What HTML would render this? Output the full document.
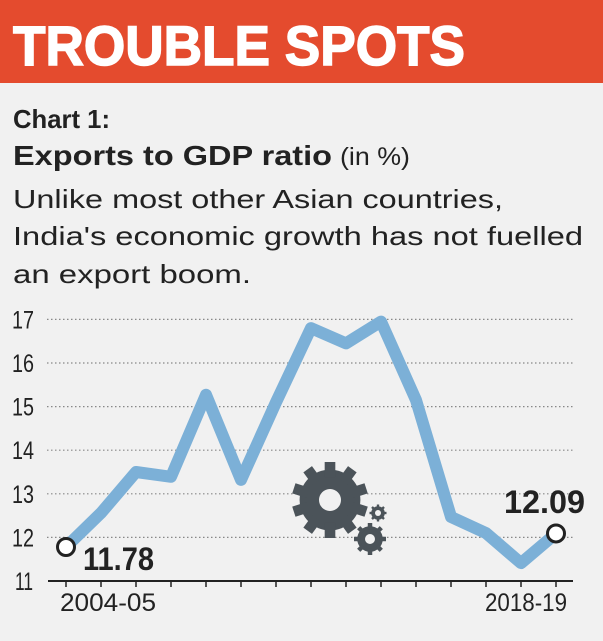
<!DOCTYPE html>
<html><head><meta charset="utf-8"><style>
html,body{margin:0;padding:0;background:#f1f1f1;}
svg{display:block;font-family:"Liberation Sans",sans-serif;}
</style></head><body>
<svg width="603" height="641" viewBox="0 0 603 641">
<rect x="0" y="0" width="603" height="641" fill="#f1f1f1"/>
<rect x="0" y="0" width="603" height="83" fill="#e44b2e"/>
<text x="13" y="65" font-size="56" font-weight="bold" fill="#fff" stroke="#fff" stroke-width="1.5" textLength="452" lengthAdjust="spacingAndGlyphs">TROUBLE SPOTS</text>
<text x="13" y="128" font-size="26" font-weight="bold" fill="#222" textLength="97" lengthAdjust="spacingAndGlyphs">Chart 1:</text>
<text x="13" y="165" font-size="28" font-weight="bold" fill="#222" textLength="319" lengthAdjust="spacingAndGlyphs">Exports to GDP ratio</text>
<text x="340" y="165" font-size="25" fill="#222" textLength="70" lengthAdjust="spacingAndGlyphs">(in %)</text>
<text x="13" y="208" font-size="26" fill="#222" textLength="490" lengthAdjust="spacingAndGlyphs">Unlike most other Asian countries,</text>
<text x="13" y="245" font-size="26" fill="#222" textLength="570" lengthAdjust="spacingAndGlyphs">India's economic growth has not fuelled</text>
<text x="13" y="283" font-size="26" fill="#222" textLength="238" lengthAdjust="spacingAndGlyphs">an export boom.</text>
<g id="plot"></g>
</svg>
<script>
const years = ["2004-05","2005-06","2006-07","2007-08","2008-09","2009-10","2010-11","2011-12","2012-13","2013-14","2014-15","2015-16","2016-17","2017-18","2018-19"];
const values = [11.78,12.56,13.5,13.39,15.27,13.32,15.1,16.8,16.45,16.95,15.15,12.47,12.1,11.41,12.09];
const yTicks = [11,12,13,14,15,16,17];
const xLabels = ["2004-05","2018-19"];
const endLabels = ["11.78","12.09"];

const NS="http://www.w3.org/2000/svg";
const g=document.getElementById('plot');
const x0=66, dx=35, yBase=581, yUnit=43.6;
function xs(i){return x0+i*dx;}
function ys(v){return yBase-(v-11)*yUnit;}
function mk(tag,attrs){const e=document.createElementNS(NS,tag);for(const k in attrs)e.setAttribute(k,attrs[k]);g.appendChild(e);return e;}

yTicks.forEach(t=>{
  if(t>11){
    const l=mk('line',{x1:47,x2:575,y1:ys(t),y2:ys(t),stroke:'#888','stroke-width':1.2,'stroke-dasharray':'1.5 2.5'});
    
    
  }
  const tx=mk('text',{x:(t===11?15:12),y:ys(t)+9,'font-size':25,fill:'#222',textLength:(t===11?18:22),lengthAdjust:'spacingAndGlyphs'});
  tx.textContent=t;
  
  
});
const ax=mk('line',{x1:48,x2:573,y1:yBase,y2:yBase,stroke:'#222','stroke-width':2});


years.forEach((y,i)=>{
  const t=mk('line',{x1:xs(i),x2:xs(i),y1:yBase,y2:yBase+6,stroke:'#222','stroke-width':1.5});
  
  
});
[0,years.length-1].forEach((idx,k)=>{
  const t=mk('text',{x:xs(idx)+(k===0?42:-30),y:611,'font-size':25,fill:'#222','text-anchor':'middle',textLength:(k===0?96:82),lengthAdjust:'spacingAndGlyphs'});
  t.textContent=xLabels[k];
  
  
});

const gear=(cx,cy,r,teeth,hole,name)=>{
  const grp=document.createElementNS(NS,'g');g.appendChild(grp);
  
  
  const c=document.createElementNS(NS,'circle');c.setAttribute('cx',cx);c.setAttribute('cy',cy);c.setAttribute('r',r*0.8);c.setAttribute('fill','#4b5359');grp.appendChild(c);
  for(let i=0;i<teeth;i++){const a=360/teeth*i;const rr=document.createElementNS(NS,'rect');
    rr.setAttribute('x',cx-r*0.14);rr.setAttribute('y',cy-r);rr.setAttribute('width',r*0.28);rr.setAttribute('height',r*0.4);
    rr.setAttribute('fill','#4b5359');rr.setAttribute('transform',`rotate(${a} ${cx} ${cy})`);grp.appendChild(rr);}
  const h=document.createElementNS(NS,'circle');h.setAttribute('cx',cx);h.setAttribute('cy',cy);h.setAttribute('r',hole);h.setAttribute('fill','#f1f1f1');grp.appendChild(h);
};
gear(330,500,38,10,11,'gear-large');
gear(370,539,16,8,5,'gear-medium');
gear(378,513,8.5,8,3,'gear-small');

const pts=values.map((v,i)=>xs(i)+','+ys(v)).join(' ');
const line=mk('polyline',{points:pts,fill:'none',stroke:'#7cb0d7','stroke-width':12,'stroke-linejoin':'round','stroke-linecap':'round'});



[0,values.length-1].forEach((idx,k)=>{
  const c=mk('circle',{cx:xs(idx),cy:ys(values[idx]),r:8.5,fill:'#fff',stroke:'#222','stroke-width':3});
  
  
});
const l1=mk('text',{x:83,y:570,'font-size':32,'font-weight':'bold',fill:'#222',textLength:71,lengthAdjust:'spacingAndGlyphs'});
l1.textContent=endLabels[0];


const l2=mk('text',{x:504,y:513,'font-size':32,'font-weight':'bold',fill:'#222',textLength:81,lengthAdjust:'spacingAndGlyphs'});
l2.textContent=endLabels[1];


</script>
</body></html>
